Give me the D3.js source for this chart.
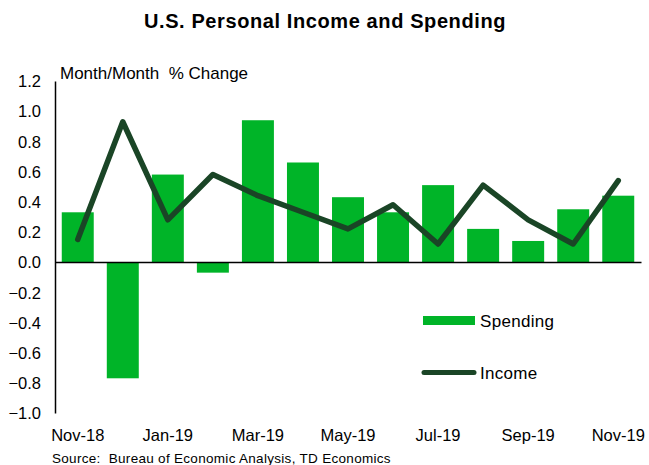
<!DOCTYPE html>
<html>
<head>
<meta charset="utf-8">
<script src="https://cdn.jsdelivr.net/npm/d3@7"></script>
<style>
  body { margin: 0; background: #fff; }
  text { font-family: "Liberation Sans", Arial, sans-serif; fill: #000; white-space: pre; }
</style>
</head>
<body>
<div id="chart"></div>
<script>
// Monthly data, Nov-18 .. Nov-19
const months = ["Nov-18", "Dec-18", "Jan-19", "Feb-19", "Mar-19", "Apr-19", "May-19",
                "Jun-19", "Jul-19", "Aug-19", "Sep-19", "Oct-19", "Nov-19"];
const spending = [0.33, -0.77, 0.58, -0.07, 0.94, 0.66, 0.43, 0.33, 0.51, 0.22, 0.14, 0.35, 0.44];
const income = [0.15, 0.93, 0.28, 0.58, 0.44, 0.33, 0.22, 0.38, 0.12, 0.51, 0.28, 0.12, 0.54];
const yTicks = [1.2, 1.0, 0.8, 0.6, 0.4, 0.2, 0.0, -0.2, -0.4, -0.6, -0.8, -1.0];
const xLabels = ["Nov-18", "Jan-19", "Mar-19", "May-19", "Jul-19", "Sep-19", "Nov-19"];

const width = 649, height = 465;
const margin = {top: 81, right: 8, bottom: 52, left: 55};

const svg = d3.select("#chart").append("svg")
    .attr("width", width)
    .attr("height", height);

const x = d3.scaleBand()
    .domain(months)
    .range([margin.left, width - margin.right])
    .paddingInner(0.29)
    .paddingOuter(0.15);

const y = d3.scaleLinear()
    .domain([-1.0, 1.2])
    .range([height - margin.bottom, margin.top]);

// title
svg.append("text")
    .attr("x", 325)
    .attr("y", 28)
    .attr("text-anchor", "middle")
    .style("font-size", "20px")
    .style("font-weight", "bold")
    .style("letter-spacing", "0.6px")
    .text("U.S. Personal Income and Spending");

svg.append("text")
    .attr("x", 60)
    .attr("y", 79)
    .style("font-size", "17px")
    .text("Month/Month  % Change");

// bars
svg.append("g")
  .selectAll("rect")
  .data(spending)
  .join("rect")
    .attr("x", (d, i) => x(months[i]))
    .attr("width", x.bandwidth())
    .attr("y", d => y(Math.max(0, d)))
    .attr("height", d => Math.abs(y(d) - y(0)))
    .attr("fill", "#00b428");

// y axis
const yAxis = svg.append("g")
    .attr("transform", `translate(${margin.left},0)`)
    .call(d3.axisLeft(y).tickValues(yTicks).tickSize(0).tickPadding(14).tickFormat(d3.format(".1f")));
yAxis.select(".domain").attr("stroke", "#000").attr("stroke-width", 1.5);
yAxis.selectAll("text")
    .style("font-size", "16.5px")
    .attr("dy", "0.35em");

// zero line + month labels
const xAxis = svg.append("g")
    .attr("transform", `translate(0,${y(0)})`)
    .call(d3.axisBottom(x).tickSize(0).tickFormat(""));
xAxis.select(".domain").attr("stroke", "#000").attr("stroke-width", 1.5);

svg.append("g")
  .selectAll("text")
  .data(xLabels)
  .join("text")
    .attr("x", d => x(d) + x.bandwidth() / 2)
    .attr("y", 441)
    .attr("text-anchor", "middle")
    .style("font-size", "16.5px")
    .text(d => d);

// income line
const line = d3.line()
    .x((d, i) => x(months[i]) + x.bandwidth() / 2)
    .y(d => y(d));

svg.append("path")
    .datum(income)
    .attr("d", line)
    .attr("fill", "none")
    .attr("stroke", "#1a4526")
    .attr("stroke-width", 5.5)
    .attr("stroke-linejoin", "round")
    .attr("stroke-linecap", "round");

// legend
const legend = svg.append("g");
legend.append("rect")
    .attr("x", 423).attr("y", 316)
    .attr("width", 52).attr("height", 9)
    .attr("fill", "#00b428");
legend.append("text")
    .attr("x", 480).attr("y", 327)
    .style("font-size", "17px")
    .style("letter-spacing", "0.3px")
    .text("Spending");
legend.append("line")
    .attr("x1", 424).attr("x2", 474)
    .attr("y1", 372.5).attr("y2", 372.5)
    .attr("stroke", "#1a4526")
    .attr("stroke-width", 5)
    .attr("stroke-linecap", "round");
legend.append("text")
    .attr("x", 480).attr("y", 379)
    .style("font-size", "17px")
    .style("letter-spacing", "0.3px")
    .text("Income");

// source
svg.append("text")
    .attr("x", 52)
    .attr("y", 463)
    .style("font-size", "13.5px")
    .style("letter-spacing", "0.3px")
    .text("Source:  Bureau of Economic Analysis, TD Economics");
</script>
</body>
</html>
